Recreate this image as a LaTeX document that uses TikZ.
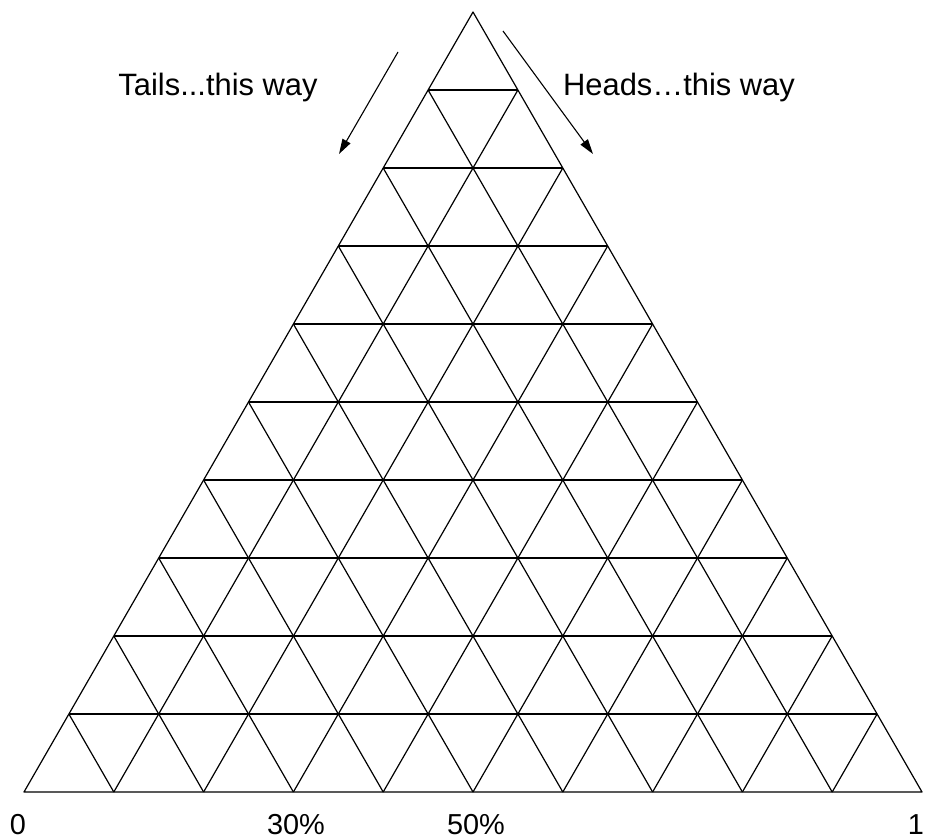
\documentclass[tikz,border=0pt]{standalone}
\usepackage{fontspec}
\setmainfont{Liberation Sans}
\usetikzlibrary{calc,arrows.meta}
\begin{document}
\begin{tikzpicture}[x=1bp,y=-1bp,
  grid/.style={line width=1.2bp,line join=round},
  lbl/.style={font=\fontsize{29}{33}\selectfont,inner sep=0pt},
  hdr/.style={font=\fontsize{31}{35}\selectfont,inner sep=0pt},
  arr/.style={line width=1.1bp,-{Triangle[length=15bp,width=9bp]}}]
\useasboundingbox (0,0) rectangle (925,840);
\coordinate (A) at (24,792);
\coordinate (B) at (922,792);
\coordinate (C) at (473,12);
\foreach \i in {1,...,9}{
  \pgfmathsetmacro{\t}{\i/10}
  \pgfmathsetmacro{\s}{1-\i/10}
  \draw[grid] ($(A)!\t!(B)$) -- ($(B)!\s!(C)$);
  \draw[grid] ($(A)!\t!(B)$) -- ($(A)!\t!(C)$);
  \draw[grid] ($(A)!\t!(C)$) -- ($(B)!\t!(C)$);
}
\draw[grid] (A) -- (B) -- (C) -- cycle;
\node[lbl,anchor=base] (t0) at (18,834) {0};
\node[lbl,anchor=base] (t30) at (296,834) {30\%};
\node[lbl,anchor=base] (t50) at (476,834) {50\%};
\node[lbl,anchor=base] (t1) at (916,834) {1};
\node[hdr,anchor=base] (tails) at (218,95) {Tails...this way};
\node[hdr,anchor=base] (heads) at (679,95) {Heads…this way};
\coordinate (ta) at (398,52);
\coordinate (tb) at (339,154);
\coordinate (ha) at (503,31);
\coordinate (hb) at (593,154);
\draw[arr] (ta) -- (tb);
\draw[arr] (ha) -- (hb);
\end{tikzpicture}
\end{document}
